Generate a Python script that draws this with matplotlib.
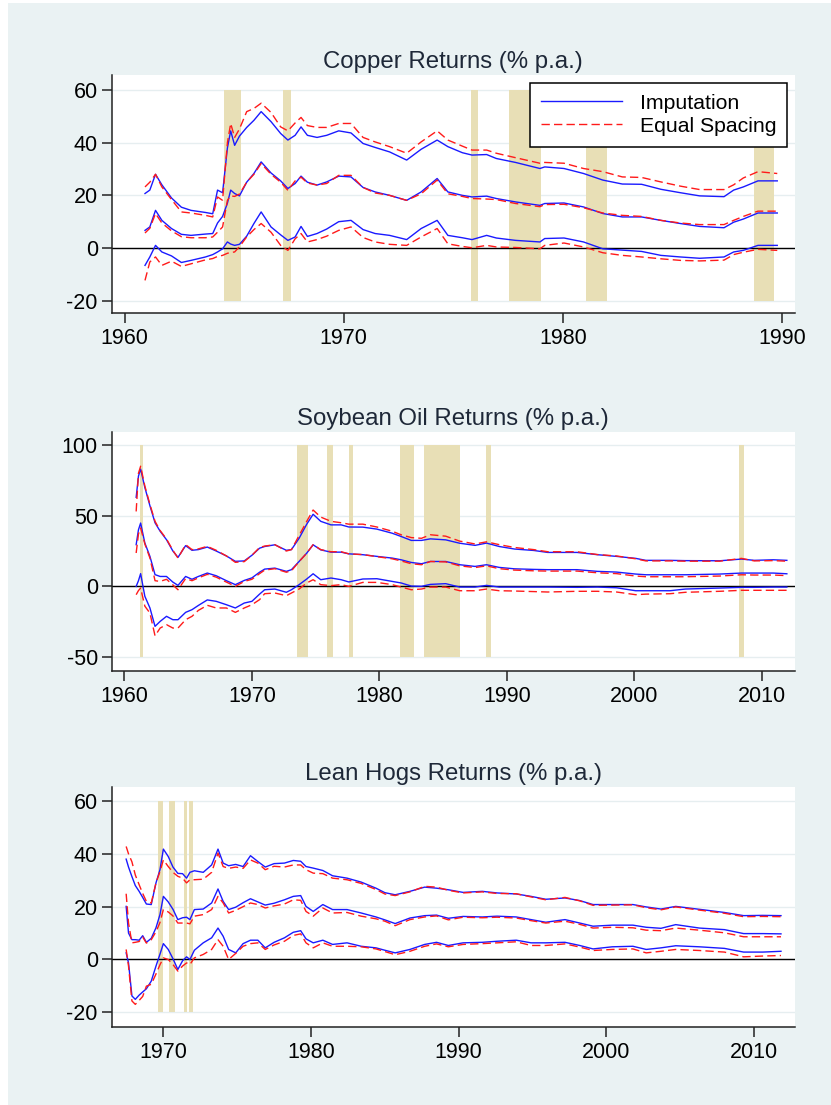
import matplotlib
matplotlib.use('Agg')
import matplotlib.pyplot as plt
from matplotlib.patches import Rectangle

plt.rcParams['font.family'] = ['Liberation Sans', 'DejaVu Sans']
plt.rcParams['axes.unicode_minus'] = False

# ---------------- Copper ----------------
cu_years = [1960.93, 1961.15, 1961.41, 1961.70, 1962.14, 1962.59, 1963.03, 1963.69, 1964.02, 1964.24,
            1964.47, 1964.69, 1964.84, 1965.02, 1965.24, 1965.57, 1965.90, 1966.23, 1966.68, 1967.12,
            1967.45, 1967.78, 1968.05, 1968.34, 1968.78, 1969.22, 1969.77, 1970.33, 1970.88, 1971.43,
            1972.09, 1972.87, 1973.53, 1974.26, 1974.75, 1975.41, 1975.85, 1976.52, 1976.96, 1977.84,
            1978.95, 1979.17, 1980.05, 1980.94, 1981.82, 1982.71, 1983.59, 1984.47, 1985.36, 1986.24,
            1987.35, 1987.79, 1988.23, 1988.90, 1989.78]
cu_imp_hi = [20.7, 22, 28, 24, 19, 15.5, 14.3, 13.5, 13, 22, 21, 38, 44.5, 39, 42.5, 45.8, 48.5, 51.8, 48, 43.5,
             41, 42.8, 46, 42.8, 42, 42.8, 44.5, 43.7, 39.7, 38.2, 36.5, 33.4, 37.5, 41, 38.5, 36.2, 35.3, 35.5, 34, 32.5,
             30.2, 30.8, 30.2, 28.3, 25.8, 24.3, 24.2, 22.3, 21, 19.8, 19.5, 22, 23.2, 25.5, 25.5]
cu_eq_hi = [23.2, 25, 28, 23.2, 18.4, 13.7, 13.3, 12.4, 11.8, 19.4, 18.1, 40, 47.3, 42, 45.2, 51.8, 53, 55, 51.5, 46,
            44.5, 47.5, 49.6, 46.5, 45.8, 45.8, 47.3, 47.3, 42, 40.3, 38.5, 36, 40.3, 44.5, 41, 38.7, 37.2, 37.2, 36, 34.3,
            32.2, 32.5, 32.2, 30.2, 29, 27, 26.8, 25.1, 23.5, 22.2, 22.2, 24, 26.6, 29, 28.3]
cu_imp_mid = [6.7, 8, 14.3, 10.5, 7.4, 5.2, 4.8, 5.3, 5.5, 9.5, 12, 17, 22, 20.7, 19.8, 25, 28.3, 32.7, 28.5, 25.5,
              22.6, 24.5, 27.3, 25, 23.9, 25.1, 27.3, 27, 23, 21.3, 20, 18.1, 21.3, 26.4, 21.3, 20, 19.4, 19.7, 18.8, 17.5,
              16.2, 16.9, 17.1, 15.6, 13.1, 11.8, 11.8, 10.5, 9.3, 8.2, 7.7, 9.8, 11, 13.3, 13.3]
cu_eq_mid = [5.7, 7.5, 13.1, 9.5, 6.5, 4.3, 3.9, 3.9, 4.2, 6, 8, 18.1, 19.8, 19.6, 20.5, 25, 28, 32.1, 28, 25,
             21.9, 25.5, 26.9, 24.7, 23.9, 24.5, 27.6, 27.6, 23, 20.9, 20, 18.1, 20.6, 25.8, 20.6, 19.6, 18.8, 18.6, 18.4, 16.9,
             15.7, 16.5, 16.6, 15.3, 13.3, 12.4, 12, 10.5, 9.5, 8.9, 8.9, 10.5, 12, 14, 14]
cu_imp_lo = [-6.6, -3.4, 1, -1.5, -3, -5.5, -4.7, -3.4, -2.5, -1.5, -0.3, 2.3, 1.5, 1, 1.4, 4.5, 9.3, 13.7, 8, 5,
             2.9, 4.2, 8.2, 4.4, 5.5, 7.2, 10, 10.5, 7, 5.5, 4.8, 3.2, 7.4, 10.5, 4.8, 3.9, 3.2, 4.8, 3.8, 2.9,
             2.3, 3.6, 3.8, 2.3, -0.3, -0.8, -1.3, -2.8, -3.4, -3.9, -3.4, -1.5, -0.9, 1, 1]
cu_eq_lo = [-12.3, -5.3, -3.4, -6.6, -5, -7, -6, -4.5, -4, -3.2, -2.8, -2, -1.7, -1.5, 0.5, 4.2, 7, 9.3, 6, 1,
            -0.9, 3.5, 5.5, 2.3, 3.2, 4.5, 6.7, 8, 4, 2.3, 1.4, 1, 4.2, 7.4, 1.6, 0.6, 0.1, 1, 0.4, 0.2,
            -0.3, 1, 1.9, 0.4, -1.8, -2.8, -3.4, -4.1, -4.7, -4.9, -4.6, -2.5, -1.6, -0.5, -0.9]
cu_shade_start = [1964.53, 1967.23, 1975.81, 1977.55, 1981.03, 1988.70]
cu_shade_end = [1965.31, 1967.58, 1976.12, 1978.99, 1982.00, 1989.65]

# ---------------- Soybean oil ----------------
so_years = [1960.92, 1961.1, 1961.27, 1961.6, 1962.0, 1962.4, 1962.8, 1963.3, 1963.8, 1964.2,
            1964.8, 1965.3, 1965.8, 1966.5, 1967.2, 1968.0, 1968.7, 1969.4, 1970.0, 1970.6,
            1971.0, 1971.8, 1972.7, 1973.1, 1973.7, 1974.3, 1974.8, 1975.4, 1976.2, 1977.0,
            1977.6, 1978.7, 1979.8, 1981.0, 1981.7, 1982.5, 1983.3, 1984.0, 1985.2, 1986.3,
            1987.5, 1988.4, 1989.4, 1990.6, 1992.1, 1993.2, 1995.5, 1997.1, 1998.6, 2000.1,
            2000.9, 2002.8, 2004.0, 2006.7, 2008.4, 2009.4, 2010.9, 2011.96]
so_imp_hi = [63, 78, 83, 70, 57, 45, 39, 33, 25, 20.5, 28.8, 25.5, 26, 27.8, 25, 21.5, 17.7, 18, 22, 27,
             28.2, 29.4, 25.5, 26, 34, 44, 51, 46, 43.5, 43.5, 42, 41.9, 40.5, 37.6, 35.3, 32.5, 32.5, 33.6, 32.9, 30.5,
             29, 30.6, 28.2, 26.4, 25.4, 24, 24, 22.4, 21.2, 19.8, 18.4, 18.4, 18.2, 18.1, 19.3, 18.4, 18.8, 18.4]
so_eq_hi = [53, 80, 85, 71, 58, 46, 39.5, 33.5, 25.5, 20, 29.5, 26, 26.5, 28.3, 25.5, 21.5, 17, 17.5, 22, 27.5,
            28.5, 29.5, 25, 26, 36, 46, 54, 49, 46, 45, 44, 44, 42, 39, 36.5, 34.5, 34, 36.5, 35.5, 32,
            30, 31.5, 29.5, 27.5, 26, 24.5, 24.5, 22.5, 21.5, 19.5, 18, 18, 17.8, 17.8, 19.8, 18, 18.2, 17.8]
so_imp_mid = [29.5, 40, 44.8, 30.7, 21.2, 8.3, 7, 7, 3, 0.7, 7, 5, 7, 9.4, 7.5, 4, 1.2, 4.2, 6, 10,
              12.2, 12.9, 10.6, 11.8, 17.6, 23.5, 29.4, 25.8, 24.2, 24.2, 23, 22.4, 21.2, 20, 18.8, 16.9, 16, 17.6, 17.6, 15.3,
              14.1, 15.3, 13.4, 12.4, 12, 11.8, 11.8, 10.6, 10.1, 8.7, 8.2, 8.2, 8.2, 8.7, 9.4, 9.4, 9.4, 8.9]
so_eq_mid = [23.6, 37, 41.3, 30, 20, 4, 3.5, 5, 1, -2.4, 5.5, 4, 6, 8.5, 6.5, 3, 0, 3.5, 5, 9,
             11.5, 12.5, 10, 11, 17.5, 23.5, 29.5, 26, 24.5, 24.5, 23, 22.5, 21, 19.5, 18, 16, 15.3, 17.6, 17.3, 14.5,
             13.3, 14.5, 12.5, 11.5, 11, 10.8, 10.8, 9.6, 9, 7.3, 6.8, 6.8, 6.8, 7.3, 8.2, 8, 8, 7.6]
so_imp_lo = [0, 4, 9, -7, -15.3, -28.3, -24.8, -21.2, -23.6, -23.6, -18.4, -16.5, -13.5, -9.6, -10.6, -13, -15.3, -11.8, -10.6, -5.5,
             -2.4, -1.9, -4.2, -2.4, 1.2, 5.2, 8.9, 4.7, 5.9, 4.7, 3.1, 5.2, 5.4, 3.5, 2.4, 0.2, 0, 1.4, 1.9, -0.5,
             -0.5, 0.7, -0.5, -0.5, -0.5, -0.5, -0.7, -0.5, -1, -3.1, -3.1, -3.1, -1.9, -1.2, -0.7, -0.7, -0.5, -0.5]
so_eq_lo = [-5.9, -3, -1.2, -14, -18.9, -35, -29.5, -27.1, -29.5, -29.5, -23.6, -21.2, -17, -13.4, -15.3, -15.3, -18.4, -15.3, -13, -9.4,
            -5.2, -4.7, -6.6, -4.7, -1.9, 2.4, 4.7, 1.2, 0.5, 1.2, 0, 2.8, 2.8, 1.2, -0.5, -2.4, -1.9, -0.5, -0.5, -3.1,
            -3.1, -1.9, -3.1, -3.3, -3.7, -4, -3.5, -3.5, -4, -5.9, -5.5, -5.2, -4.2, -3.5, -2.8, -2.8, -2.8, -2.8]
so_shade_start = [1961.23, 1973.57, 1975.91, 1977.60, 1981.59, 1983.50, 1988.37, 2008.24]
so_shade_end = [1961.42, 1974.42, 1976.37, 1977.94, 1982.70, 1986.30, 1988.72, 2008.58]

# ---------------- Lean hogs ----------------
hg_years = [1967.48, 1967.64, 1967.87, 1968.1, 1968.36, 1968.6, 1968.85, 1969.18, 1969.5, 1969.77,
            1970.0, 1970.33, 1970.65, 1970.98, 1971.3, 1971.57, 1971.8, 1972.1, 1972.7, 1973.27,
            1973.7, 1974.05, 1974.42, 1974.9, 1975.4, 1975.9, 1976.4, 1976.9, 1977.5, 1978.2,
            1978.8, 1979.3, 1979.66, 1980.15, 1980.8, 1981.46, 1982.44, 1983.4, 1984.4, 1985.0,
            1985.7, 1986.7, 1987.7, 1988.5, 1989.3, 1990.3, 1991.6, 1992.6, 1993.9, 1994.9,
            1995.9, 1997.2, 1998.2, 1999.1, 2000.4, 2001.8, 2002.7, 2003.7, 2004.7, 2006.3,
            2008.0, 2009.3, 2010.6, 2011.83]
hg_imp_hi = [38, 35, 31.4, 28, 25.8, 23.5, 21, 20.8, 29, 34, 41.8, 39, 35, 32.6, 32.5, 30.8, 33, 33.6, 33, 35.8,
             41.8, 36.5, 35.5, 36, 35.2, 39.3, 37.1, 35, 36.3, 36.5, 37.5, 37.2, 35.2, 34.6, 33.7, 31.7, 30.8, 29.3, 27, 25.3,
             24.5, 25.8, 27.4, 27, 26.4, 25.4, 25.8, 25.2, 24.8, 23.9, 22.8, 23.3, 22.3, 20.8, 20.8, 20.8, 19.9, 19.1, 20.1, 19,
             17.8, 16.6, 16.7, 16.6]
hg_eq_hi = [42.8, 40, 37, 32, 28.3, 25, 22, 21.4, 29, 33.3, 37.7, 35.2, 33, 31.5, 30.8, 29, 30.2, 30.2, 30.4, 33,
            40.3, 35.2, 34.5, 35, 34.5, 37.7, 36.5, 34, 35.3, 35, 35.8, 35.8, 34, 32.7, 32.5, 30.8, 30.2, 28.8, 26.5, 24.8,
            24.2, 25.6, 27.7, 27.4, 26.2, 25.2, 25.6, 25, 24.9, 23.7, 22.6, 23.5, 22.2, 20.5, 20.6, 20.7, 19.6, 18.8, 19.9, 18.7,
            17.5, 16.2, 16.3, 16.2]
hg_imp_mid = [20.1, 10, 7.5, 7.5, 7.3, 9, 6.5, 8, 12, 17, 23.9, 21.8, 19, 15.1, 15.8, 16, 15.1, 18.9, 19.1, 21.4,
              26.7, 22, 18.9, 19.8, 21.5, 23, 21.8, 20.6, 21.3, 22.6, 23.9, 24.2, 20.1, 18.2, 20.8, 18.9, 18.9, 17.6, 16.1, 15,
              13.6, 15.7, 16.6, 16.8, 15.6, 16.3, 16.1, 16.4, 16.1, 15.1, 14.1, 15.1, 13.8, 12.6, 13, 13, 12.2, 11.8, 13.2, 11.9,
              11.3, 9.8, 9.8, 9.7]
hg_eq_mid = [24.9, 13.8, 6.3, 6.5, 6.8, 8.5, 6.2, 7.5, 10.5, 14, 18.9, 18, 16.5, 13.8, 13.8, 13.8, 13.5, 16.4, 17, 18.9,
             23.9, 21.4, 17.6, 18.6, 20, 21.4, 20.8, 19.5, 20.3, 21, 22.6, 22.4, 18.2, 16.4, 19.5, 17.6, 17.8, 16.4, 15.4, 14.5,
             12.8, 15.1, 16.1, 16.5, 15, 16, 15.8, 16, 15.7, 14.7, 13.8, 14.5, 13.3, 11.9, 12.2, 12, 11.1, 10.9, 11.9, 11.1,
             10.1, 8.6, 8.6, 8.6]
hg_imp_lo = [2.5, -1.3, -13.8, -15.1, -13.5, -12.3, -11.1, -8.2, -2.5, 2, 6, 3.8, 0.3, -3.8, -0.5, 1, 0, 3.5, 6.3, 8.2,
             11.9, 8.8, 3.8, 2.5, 6, 7.3, 7.3, 4.4, 6.5, 8.2, 10.3, 10.9, 7.8, 6.3, 7.3, 5.7, 6.3, 5, 4.4, 3.5,
             2.5, 3.8, 5.7, 6.5, 5.3, 6.3, 6.5, 6.9, 7.3, 6.3, 6.3, 6.5, 5.3, 4, 4.8, 5, 3.8, 4.4, 5.2, 4.8,
             4.2, 2.8, 2.8, 3.1]
hg_eq_lo = [3.8, -2.5, -15.7, -17, -15.5, -14, -10.1, -9.4, -5.5, -2, 0.6, 0, -1.9, -4.4, -2.5, -1.3, -1.9, 0.6, 1.9, 3.8,
            7.5, 5, 0, 2.3, 5, 6, 6.3, 3.8, 5.5, 6.9, 9.1, 9.7, 6.3, 4.4, 6.3, 5, 5, 4.8, 4, 3,
            1.8, 3.1, 5, 5.9, 4.8, 5.7, 6, 6.3, 6.7, 5.3, 5.3, 5.9, 4.7, 3.4, 3.8, 4, 2.5, 3.1, 3.8, 3.4,
            2.8, 1, 1.3, 1.5]
hg_shade_start = [1969.63, 1970.38, 1971.38, 1971.75]
hg_shade_end = [1969.96, 1970.82, 1971.62, 1971.98]

BG = '#EAF2F3'
SHADE = '#E8DFB6'
BLUE = '#1A1AFF'
RED = '#FF1A1A'


def draw_panel(ax, title, years, imp, eq, starts, ends, ylo, yhi, yticks, xticks, xlim, ylim):
    # event shading, spanning the tick range
    for s, e in zip(starts, ends):
        ax.bar(s, yhi - ylo, width=e - s, bottom=ylo, align='edge', color=SHADE, linewidth=0, zorder=1)
    for y in yticks:
        ax.axhline(y, color='#E6EEF0', lw=1.0, zorder=0.5)
    ax.axhline(0, color='black', lw=1.0, zorder=2)
    for k, ser in enumerate(imp):
        ax.plot(years, ser, color=BLUE, lw=1.0, zorder=3, label='Imputation' if k == 0 else None)
    for k, ser in enumerate(eq):
        ax.plot(years, ser, color=RED, lw=1.0, dashes=(6, 3), zorder=4, label='Equal Spacing' if k == 0 else None)
    ax.set_xlim(xlim)
    ax.set_ylim(ylim)
    ax.set_xticks(xticks)
    ax.set_yticks(yticks)
    ax.set_title(title, fontsize=17.3, color='#1E2838', pad=5)
    for sp in ['top', 'right']:
        ax.spines[sp].set_visible(False)
    for sp in ['left', 'bottom']:
        ax.spines[sp].set_color('#222222')
        ax.spines[sp].set_linewidth(1.1)
    ax.tick_params(axis='both', direction='out', length=7, width=1.1, color='#222222',
                   labelsize=15.5, labelcolor='black')
    ax.tick_params(axis='y', pad=3)
    ax.tick_params(axis='x', pad=4)


fig = plt.figure(figsize=(8.31, 11.05), dpi=100, facecolor=BG)
# thin white strip on the left and top edges
fig.patches.append(Rectangle((0, 0), 8 / 831, 1, transform=fig.transFigure,
                             facecolor='white', edgecolor='none', zorder=-5))
fig.patches.append(Rectangle((0, 1 - 3 / 1105), 1, 3 / 1105, transform=fig.transFigure,
                             facecolor='white', edgecolor='none', zorder=-5))

ax1 = fig.add_axes([0.1344, 0.7167, 0.8223, 0.2154])
ax2 = fig.add_axes([0.1344, 0.3930, 0.8223, 0.2163])
ax3 = fig.add_axes([0.1344, 0.0710, 0.8223, 0.2165])

draw_panel(ax1, 'Copper Returns (% p.a.)', cu_years,
           [cu_imp_hi, cu_imp_mid, cu_imp_lo], [cu_eq_hi, cu_eq_mid, cu_eq_lo],
           cu_shade_start, cu_shade_end, -20, 60, [-20, 0, 20, 40, 60], [1960, 1970, 1980, 1990],
           (1959.41, 1990.59), (-24.7, 65.7))
draw_panel(ax2, 'Soybean Oil Returns (% p.a.)', so_years,
           [so_imp_hi, so_imp_mid, so_imp_lo], [so_eq_hi, so_eq_mid, so_eq_lo],
           so_shade_start, so_shade_end, -50, 100, [-50, 0, 50, 100], [1960, 1970, 1980, 1990, 2000, 2010],
           (1959.0, 2012.6), (-59.7, 109.4))
draw_panel(ax3, 'Lean Hogs Returns (% p.a.)', hg_years,
           [hg_imp_hi, hg_imp_mid, hg_imp_lo], [hg_eq_hi, hg_eq_mid, hg_eq_lo],
           hg_shade_start, hg_shade_end, -20, 60, [-20, 0, 20, 40, 60], [1970, 1980, 1990, 2000, 2010],
           (1966.5, 2012.78), (-25.4, 65.2))

leg = ax1.legend(loc='upper right', bbox_to_anchor=(787 / 831, 1 - 83 / 1105), bbox_transform=fig.transFigure,
                 fontsize=15.3, frameon=True, fancybox=False, handlelength=3.8, handletextpad=0.85,
                 borderpad=0.5, labelspacing=0.2, borderaxespad=0)
leg.get_frame().set_edgecolor('black')
leg.get_frame().set_linewidth(1.1)
leg.get_frame().set_facecolor('white')
leg.get_frame().set_alpha(1.0)

fig.savefig('out.png', dpi=100, facecolor=fig.get_facecolor())
